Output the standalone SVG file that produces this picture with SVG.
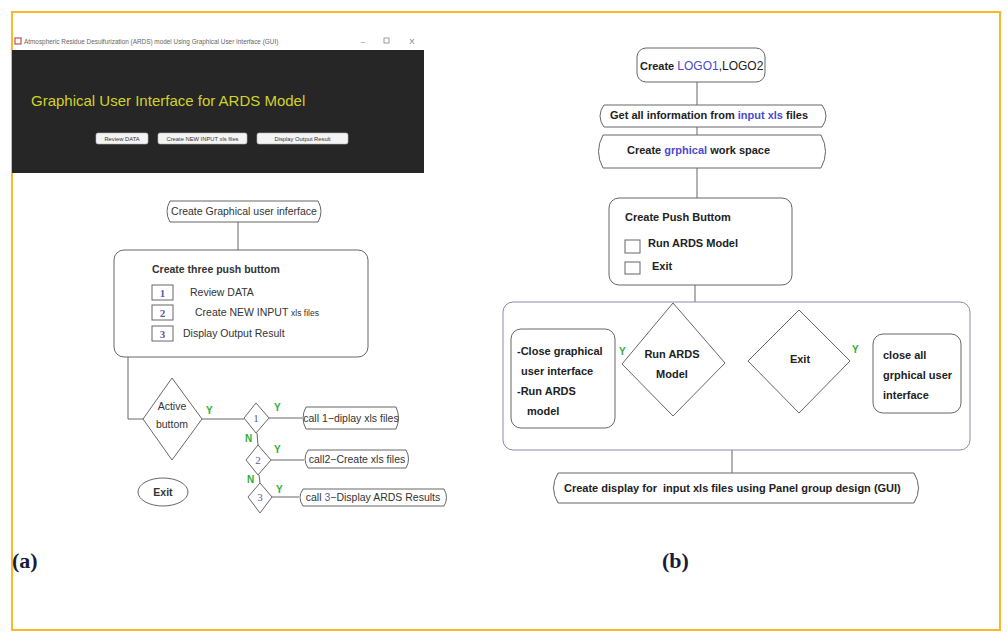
<svg xmlns="http://www.w3.org/2000/svg" width="1007" height="642" viewBox="0 0 1007 642">
<style>
.ln{stroke:#666;stroke-width:1;fill:none}
.bx{stroke:#666;stroke-width:1;fill:#fff}
.ta{font-family:"Liberation Sans",Arial,sans-serif;font-size:10.5px;fill:#333}
.tb{font-family:"Liberation Sans",Arial,sans-serif;font-size:11px;font-weight:bold;fill:#222}
.g{font-family:"Liberation Sans",Arial,sans-serif;font-size:10px;font-weight:bold;fill:#2fae3a}
.bl{fill:#4a4ad0}
.num{font-family:"Liberation Serif","Times New Roman",serif;font-size:11px;fill:#5a5aa8}
.btn{fill:#f4f4f4;stroke:#bbb;stroke-width:0.6}
.bt{font-family:"Liberation Sans",Arial,sans-serif;font-size:5.8px;fill:#333}
.lab{font-family:"Liberation Serif","Times New Roman",serif;font-size:22px;font-weight:bold;fill:#1a1a3a}
</style>
<rect x="0" y="0" width="1007" height="642" fill="#fff"/>
<rect x="12" y="12" width="988" height="618" fill="#fff" stroke="#fbb829" stroke-width="2"/>

<g id="gui-window">
<rect x="15" y="38" width="6" height="6" fill="#fff" stroke="#a33" stroke-width="1"/>
<text x="24" y="43.5" font-family="Liberation Sans,Arial,sans-serif" font-size="6.4" fill="#666">Atmospheric Residue Desulfurization (ARDS) model Using Graphical User Interface (GUI)</text>
<text x="363" y="44" font-family="Liberation Sans,Arial,sans-serif" font-size="8" fill="#777" text-anchor="middle">–</text>
<rect x="384" y="38" width="5" height="5" fill="none" stroke="#777" stroke-width="0.7"/>
<text x="412" y="44" font-family="Liberation Sans,Arial,sans-serif" font-size="8" fill="#777" text-anchor="middle">X</text>
<rect x="12" y="50" width="412" height="123" fill="#262626"/>
<text x="31" y="106" font-family="Liberation Sans,Arial,sans-serif" font-size="15" fill="#d2d22c">Graphical User Interface for ARDS Model</text>
<rect class="btn" x="96" y="133" width="52" height="11" rx="2"/>
<text class="bt" x="122" y="140.5" text-anchor="middle">Review DATA</text>
<rect class="btn" x="158" y="133" width="89" height="11" rx="2"/>
<text class="bt" x="202.5" y="140.5" text-anchor="middle">Create NEW INPUT xls files</text>
<rect class="btn" x="257" y="133" width="91" height="11" rx="2"/>
<text class="bt" x="302.5" y="140.5" text-anchor="middle">Display Output Result</text>
</g>

<g id="connectors">
<line class="ln" x1="238" y1="222" x2="238" y2="250"/>
<polyline class="ln" points="128,357 128,419 143,419"/>
<line class="ln" x1="202" y1="419" x2="244" y2="419"/>
<line class="ln" x1="269" y1="418" x2="302" y2="418"/>
<line class="ln" x1="257" y1="433" x2="258" y2="445"/>
<line class="ln" x1="271" y1="460" x2="304" y2="460"/>
<line class="ln" x1="259" y1="475" x2="260" y2="483"/>
<line class="ln" x1="272" y1="497" x2="299" y2="497"/>
<line class="ln" x1="697" y1="82" x2="697" y2="105"/>
<line class="ln" x1="697" y1="127" x2="697" y2="135"/>
<line class="ln" x1="697" y1="168" x2="697" y2="198"/>
<line class="ln" x1="695" y1="285" x2="695" y2="302"/>
<line class="ln" x1="615" y1="364" x2="622" y2="364"/>
<line class="ln" x1="850" y1="361" x2="873" y2="361"/>
<line class="ln" x1="732" y1="450" x2="732" y2="473"/>
</g>

<g id="a-create-gui">
<path class="bx" d="M170,201 H318 Q324,211.5 318,222 H170 Q164,211.5 170,201 Z"/>
<text class="ta" x="244" y="215" text-anchor="middle">Create Graphical user inferface</text>
</g>

<g id="a-push-buttons">
<rect class="bx" x="114" y="250" width="254" height="107" rx="10"/>
<text class="ta" x="152" y="273" font-weight="bold" fill="#222">Create three push buttom</text>
<rect class="bx" x="152" y="285" width="21" height="15"/>
<text class="num" x="162.5" y="297" text-anchor="middle" fill="#222" font-weight="bold">1</text>
<text class="ta" x="190" y="296">Review DATA</text>
<rect class="bx" x="152" y="305" width="21" height="15"/>
<text class="num" x="162.5" y="317" text-anchor="middle" fill="#222" font-weight="bold">2</text>
<text class="ta" x="195" y="316">Create NEW INPUT <tspan font-size="8.5">xls files</tspan></text>
<rect class="bx" x="152" y="326" width="21" height="15"/>
<text class="num" x="162.5" y="338" text-anchor="middle" fill="#222" font-weight="bold">3</text>
<text class="ta" x="183" y="337">Display Output Result</text>
</g>

<g id="a-active">
<polygon class="bx" points="172,378 202,419 172,460 143,419"/>
<text class="ta" x="172" y="410" text-anchor="middle" font-size="9.5">Active</text>
<text class="ta" x="172" y="428" text-anchor="middle" font-size="9.5">buttom</text>
<text class="g" x="206" y="414">Y</text>
</g>

<g id="a-d1">
<polygon class="bx" points="256,403 269,418 256,433 244,418"/>
<text class="num" x="256" y="422" text-anchor="middle">1</text>
<text class="g" x="274" y="411">Y</text>
<text class="g" x="245" y="442">N</text>
</g>
<g id="a-call1">
<path class="bx" d="M306,407 H396 Q401,418 396,429 H306 Q300,418 306,407 Z"/>
<text class="ta" x="351" y="422" text-anchor="middle" font-size="9.5">call 1−diplay xls files</text>
</g>

<g id="a-d2">
<polygon class="bx" points="258,445 271,460 258,475 246,460"/>
<text class="num" x="258" y="464" text-anchor="middle">2</text>
<text class="g" x="274" y="453">Y</text>
<text class="g" x="247" y="483">N</text>
</g>
<g id="a-call2">
<path class="bx" d="M308,450 H406 Q411,459 406,468 H308 Q302,459 308,450 Z"/>
<text class="ta" x="357" y="463" text-anchor="middle" font-size="9.5">call2−Create xls files</text>
</g>

<g id="a-d3">
<polygon class="bx" points="260,483 272,497 260,513 248,497"/>
<text class="num" x="260" y="501" text-anchor="middle">3</text>
<text class="g" x="276" y="493">Y</text>
</g>
<g id="a-call3">
<path class="bx" d="M303,489 H444 Q449,497.5 444,506 H303 Q297,497.5 303,489 Z"/>
<text class="ta" x="373" y="501" text-anchor="middle" font-size="9.5">call <tspan fill="#5a5aa8">3</tspan>−Display ARDS Results</text>
</g>

<g id="a-exit">
<ellipse class="bx" cx="163" cy="492" rx="25" ry="14"/>
<text class="ta" x="163" y="496" text-anchor="middle" font-size="9.5" font-weight="bold" fill="#222">Exit</text>
</g>

<text class="lab" x="12" y="568">(a)</text>
<text class="lab" x="662" y="568">(b)</text>

<g id="b-logo">
<rect class="bx" x="637" y="48" width="128" height="34" rx="9"/>
<text class="tb" x="640" y="70">Create <tspan class="bl" font-weight="normal" font-size="12">LOGO1</tspan><tspan font-weight="normal" font-size="12">,LOGO2</tspan></text>
</g>

<g id="b-info">
<path class="bx" d="M604,105 H822 Q830,116 822,127 H604 Q596,116 604,105 Z"/>
<text class="tb" x="610" y="119">Get all information from <tspan class="bl">input xls</tspan> files</text>
</g>

<g id="b-workspace">
<path class="bx" d="M603,135 H821 Q830,151.5 821,168 H603 Q594,151.5 603,135 Z"/>
<text class="tb" x="627" y="154">Create <tspan class="bl">grphical</tspan> work space</text>
</g>

<g id="b-push">
<rect class="bx" x="609" y="198" width="183" height="87" rx="10"/>
<text class="tb" x="625" y="221">Create Push Buttom</text>
<rect class="bx" x="625" y="240" width="15" height="13"/>
<text class="tb" x="648" y="247">Run ARDS Model</text>
<rect class="bx" x="625" y="262" width="15" height="12"/>
<text class="tb" x="652" y="270">Exit</text>
</g>

<g id="b-panel">
<rect x="503" y="302" width="467" height="148" rx="10" fill="#fff" stroke="#8a8aa8" stroke-width="1"/>
</g>

<g id="b-close-gui">
<rect class="bx" x="511" y="329" width="104" height="99" rx="10"/>
<text class="tb" x="517" y="355">-Close graphical</text>
<text class="tb" x="521" y="375">user interface</text>
<text class="tb" x="517" y="395">-Run ARDS</text>
<text class="tb" x="527" y="415">model</text>
</g>

<g id="b-run">
<polygon class="bx" points="673,303 725,363 673,416 622,364"/>
<text class="tb" x="672" y="358" text-anchor="middle">Run ARDS</text>
<text class="tb" x="672" y="378" text-anchor="middle">Model</text>
<text class="g" x="619" y="355">Y</text>
</g>

<g id="b-exit">
<polygon class="bx" points="799,310 850,361 799,413 748,361"/>
<text class="tb" x="800" y="363" text-anchor="middle">Exit</text>
<text class="g" x="852" y="353">Y</text>
</g>

<g id="b-close-all">
<rect class="bx" x="873" y="334" width="88" height="79" rx="10"/>
<text class="tb" x="883" y="359">close all</text>
<text class="tb" x="883" y="379">grphical user</text>
<text class="tb" x="883" y="399">interface</text>
</g>

<g id="b-display">
<path class="bx" d="M558,473 H914 Q923,488 914,503 H558 Q549,488 558,473 Z"/>
<text class="tb" x="564" y="492" xml:space="preserve">Create display for  input xls files using Panel group design (GUI)</text>
</g>
</svg>
